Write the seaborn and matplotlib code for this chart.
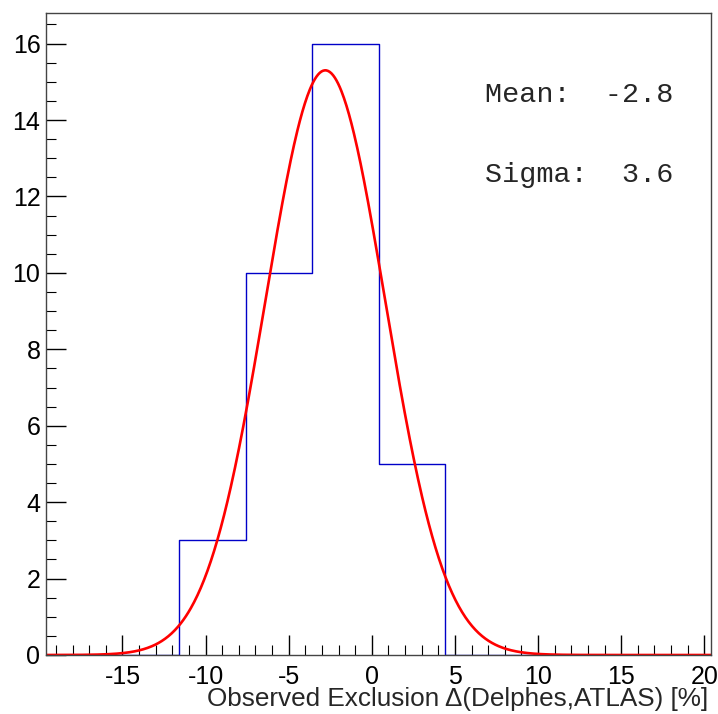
import numpy as np
import pandas as pd
import matplotlib
matplotlib.use("Agg")
import matplotlib.pyplot as plt
import seaborn as sns
from matplotlib.ticker import MultipleLocator

# ---- data ----
bin_edges = [-19.6, -15.6, -11.6, -7.6, -3.6, 0.4, 4.4, 8.4, 12.4, 16.4, 20.4]
bin_counts = [0, 0, 3, 10, 16, 5, 0, 0, 0, 0]
fit_mean = -2.8
fit_sigma = 3.6
fit_amplitude = 15.3
x_label = "Observed Exclusion \u0394(Delphes,ATLAS) [%]"
stat_labels = ["Mean:  -2.8", "Sigma:  3.6"]

sns.set_style("white")
plt.rcParams["font.family"] = ["Liberation Sans", "DejaVu Sans"]
plt.rcParams["axes.unicode_minus"] = False

W, H = 718, 714
fig = plt.figure(figsize=(W / 100, H / 100), dpi=100)
ax = fig.add_axes([46 / W, (H - 655) / H, (711 - 46) / W, (655 - 13) / H])

centers = [(a + b) / 2 for a, b in zip(bin_edges[:-1], bin_edges[1:])]
hist_df = pd.DataFrame({"x": centers, "w": bin_counts})
sns.histplot(data=hist_df, x="x", weights="w", bins=bin_edges, element="step",
             fill=False, color="#0000c8", linewidth=1.0, ax=ax)

xs = np.linspace(bin_edges[0], bin_edges[-1], 800)
ys = fit_amplitude * np.exp(-0.5 * ((xs - fit_mean) / fit_sigma) ** 2)
fit_df = pd.DataFrame({"x": xs, "y": ys})
sns.lineplot(data=fit_df, x="x", y="y", color="#ff0000", linewidth=1.9, ax=ax)

ax.set_xlim(bin_edges[0], bin_edges[-1])
ax.set_ylim(0, max(bin_counts) * 1.05)
ax.set_xlabel("")
ax.set_ylabel("")

ax.xaxis.set_major_locator(MultipleLocator(5))
ax.xaxis.set_minor_locator(MultipleLocator(1))
ax.yaxis.set_major_locator(MultipleLocator(2))
ax.yaxis.set_minor_locator(MultipleLocator(0.5))
ax.tick_params(axis="both", which="both", direction="in", bottom=True, left=True,
               top=False, right=False, labelsize=18, colors="black")
ax.tick_params(axis="both", which="major", length=14.4, width=1.0)
ax.tick_params(axis="both", which="minor", length=7.2, width=0.8)
ax.tick_params(axis="x", which="major", pad=7.0)
ax.tick_params(axis="y", which="major", pad=4.0)

for s in ax.spines.values():
    s.set_visible(True)
    s.set_color("#444444")
    s.set_linewidth(1.0)

fig.text(708 / W, (H - 706) / H, x_label, ha="right", va="baseline", fontsize=18.8)

mono = ["Liberation Mono", "DejaVu Sans Mono"]
fig.text(485 / W, (H - 102) / H, stat_labels[0], ha="left", va="baseline",
         fontsize=20.5, family=mono)
fig.text(485 / W, (H - 182) / H, stat_labels[1], ha="left", va="baseline",
         fontsize=20.5, family=mono)

fig.savefig("out.png", dpi=100, facecolor="white")
